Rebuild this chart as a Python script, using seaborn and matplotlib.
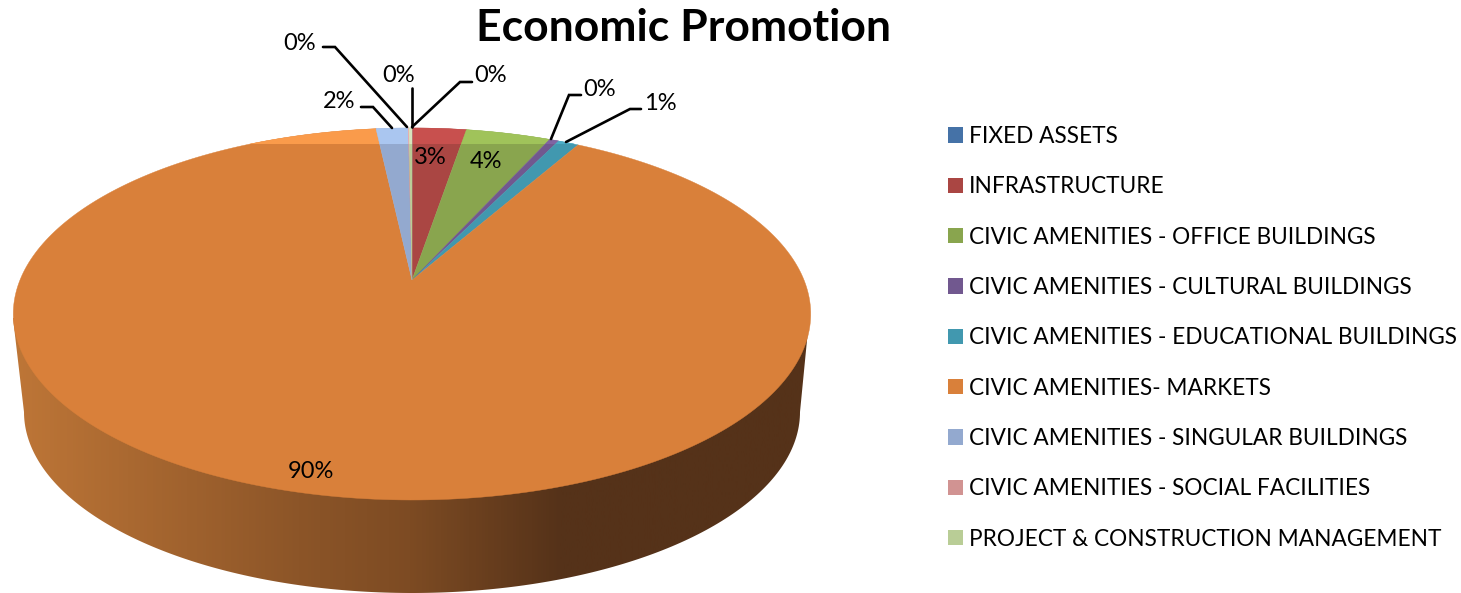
import numpy as np
import seaborn as sns
import matplotlib.pyplot as plt
from matplotlib.colors import LinearSegmentedColormap
from matplotlib.patches import Patch, Polygon, Rectangle

categories = [
    "FIXED ASSETS",
    "INFRASTRUCTURE",
    "CIVIC AMENITIES - OFFICE BUILDINGS",
    "CIVIC AMENITIES - CULTURAL BUILDINGS",
    "CIVIC AMENITIES - EDUCATIONAL BUILDINGS",
    "CIVIC AMENITIES- MARKETS",
    "CIVIC AMENITIES - SINGULAR BUILDINGS",
    "CIVIC AMENITIES - SOCIAL FACILITIES",
    "PROJECT & CONSTRUCTION MANAGEMENT",
]
values = [0.02, 2.6, 4.1, 0.45, 1.0, 90.1, 1.55, 0.03, 0.15]

slice_colors = ["#4572A7", "#AA4643", "#89A54E", "#71588F", "#4198AF",
                "#D9803A", "#93A9CF", "#D19392", "#B9CD96"]
band_colors = ["#4F81BD", "#C8504E", "#A0C35A", "#8064A2", "#4BACC6",
               "#FA9B4B", "#AAC6F0", "#F0A9A8", "#D7E4BD"]

# label spots in picture pixels, one per slice
label_xy = [(300, 43), (430, 158), (486, 162), (600, 89), (660, 103),
            (311, 471), (339, 102), (399, 75), (491, 75)]
leaders = [
    [(323, 47), (335, 47), (407, 127)],
    [(472, 82), (460, 82), (412, 127)],
    [(581, 95), (569, 95), (551, 139)],
    [(641, 109), (630, 109), (566, 142)],
    [(361, 107), (373, 107), (392, 128)],
    [(412, 88), (412, 127)],
]

sns.set_theme(style="white")
plt.rcParams["font.family"] = ["Lato", "DejaVu Sans"]

W, H = 1461, 593
CX, RX = 412, 392
APEX_Y, A, C = 280, -128.6, 0.1828
BAND_Y = 144


def project(x, y):
    # tilt the flat pie so the centre sits above the middle of the ellipse
    d = 1 + C * y
    return CX + RX * x / d, (A * y + APEX_Y) / d


fig = plt.figure(figsize=(W / 100, H / 100), dpi=100)
ax = fig.add_axes([0, 0, 1, 1])
wedges, _ = ax.pie(values, colors=slice_colors, startangle=90, counterclock=False)

# side wall
t = np.linspace(0, np.pi, 200)
wall = [(13, 318)] + [(412 - 388 * np.cos(a), 412 + 181 * np.sin(a)) for a in t] + [(808, 330), (412, 314)]
wall_cmap = LinearSegmentedColormap.from_list(
    "wall",
    [(0.0, "#BE7637"), (0.36, "#8C5528"), (0.5, "#7D4B23"), (0.69, "#553219"), (1.0, "#553219")],
)
grad = np.linspace(0, 1, 800).reshape(1, -1)
im = ax.imshow(grad, extent=[13, 808, H, 0], aspect="auto", cmap=wall_cmap, zorder=1)
im.set_clip_path(Polygon(wall, transform=ax.transData))

# top face, with the lighter strip along the back edge
for wedge, col, band in zip(wedges, slice_colors, band_colors):
    th = np.radians(np.linspace(wedge.theta1, wedge.theta2, 300))
    xs, ys = project(np.cos(th), np.sin(th))
    pts = [(CX, APEX_Y)] + list(zip(xs, ys))
    wedge.remove()
    ax.add_patch(Polygon(pts, facecolor=col, edgecolor=col, lw=0.3, zorder=2))
    top = Polygon(pts, facecolor=band, edgecolor=band, lw=0.3, zorder=3)
    ax.add_patch(top)
    top.set_clip_path(Rectangle((0, 0), W, BAND_Y, transform=ax.transData))

total = sum(values)
for v, (x, y) in zip(values, label_xy):
    ax.text(x, y, f"{v / total:.0%}", ha="center", va="center", fontsize=17, color="black", zorder=5)

for line in leaders:
    ax.plot(*zip(*line), color="black", lw=1.9, solid_joinstyle="miter", zorder=4)

ax.text(684, 28, "Economic Promotion", ha="center", va="center", fontsize=32,
        fontweight="bold", color="black")

handles = [Patch(facecolor=c, edgecolor="none") for c in slice_colors]
ax.legend(handles, categories, loc="upper left", bbox_to_anchor=(948 / W, 1 - 126 / H),
          bbox_transform=fig.transFigure, frameon=False, fontsize=16.3, labelcolor="black",
          handlelength=0.66, handleheight=0.66, handletextpad=0.27, labelspacing=1.295,
          borderpad=0, borderaxespad=0)

ax.set_aspect("auto")
ax.set_xlim(0, W)
ax.set_ylim(H, 0)
ax.axis("off")

fig.savefig("out.png", dpi=100, facecolor="white")
